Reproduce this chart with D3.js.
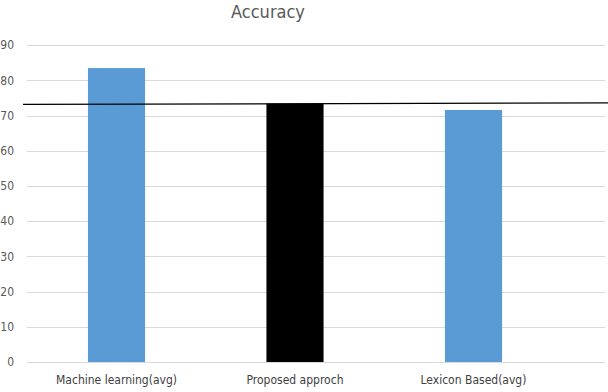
<!DOCTYPE html>
<html><head><meta charset="utf-8">
<script src="https://cdn.jsdelivr.net/npm/d3@7"></script>
<style>body{margin:0;background:#fff}svg{display:block}</style>
</head><body>
<script>
const categories = ["Machine learning(avg)", "Proposed approch", "Lexicon Based(avg)"];
const values = [83.5, 73.4, 71.6];
const barColors = ["#5B9BD5", "#000000", "#5B9BD5"];
const yTicks = [0, 10, 20, 30, 40, 50, 60, 70, 80, 90];
const refLine = [73.2, 73.6];
const title = "Accuracy";

const W = 608, H = 392;
const svg = d3.select("body").append("svg").attr("width", W).attr("height", H);
const y = d3.scaleLinear().domain([0, 90]).range([362, 45.2]);
const x = d3.scaleBand().domain(categories).range([27.25, 562.75]).paddingInner(0.68).paddingOuter(0.34);

// gridlines
svg.append("g").selectAll("line").data(yTicks).join("line")
  .attr("x1", 27).attr("x2", 605)
  .attr("y1", d => Math.round(y(d)) + 0.5).attr("y2", d => Math.round(y(d)) + 0.5)
  .attr("stroke", "#d9d9d9").attr("stroke-width", 1.2);

// y tick labels
svg.append("g").selectAll("text").data(yTicks).join("text")
  .attr("x", 14).attr("y", d => y(d)).attr("dy", "0.35em")
  .attr("text-anchor", "end")
  .attr("font-family", "'Liberation Sans Narrow', 'DejaVu Sans Condensed', sans-serif")
  .attr("font-size", 12).attr("fill", "#595959")
  .text(d => d);

// bars
svg.append("g").selectAll("rect").data(values).join("rect")
  .attr("x", (d, i) => x(categories[i]))
  .attr("width", x.bandwidth())
  .attr("y", d => y(d))
  .attr("height", d => y(0) - y(d))
  .attr("fill", (d, i) => barColors[i]);

// reference line
svg.append("line")
  .attr("x1", 23).attr("x2", 608)
  .attr("y1", y(refLine[0])).attr("y2", y(refLine[1]))
  .attr("stroke", "#000").attr("stroke-width", 1.2);

// category labels
svg.append("g").selectAll("text").data(categories).join("text")
  .attr("x", d => x(d) + x.bandwidth() / 2).attr("y", 384)
  .attr("text-anchor", "middle")
  .attr("font-family", "'Liberation Sans Narrow', 'DejaVu Sans Condensed', sans-serif")
  .attr("font-size", 12).attr("fill", "#404040")
  .text(d => d);

// title
svg.append("text").attr("x", 268).attr("y", 18).attr("text-anchor", "middle")
  .attr("font-family", "'Liberation Sans Narrow', 'DejaVu Sans Condensed', sans-serif")
  .attr("font-size", 18).attr("fill", "#595959").text(title);
</script>
</body></html>
